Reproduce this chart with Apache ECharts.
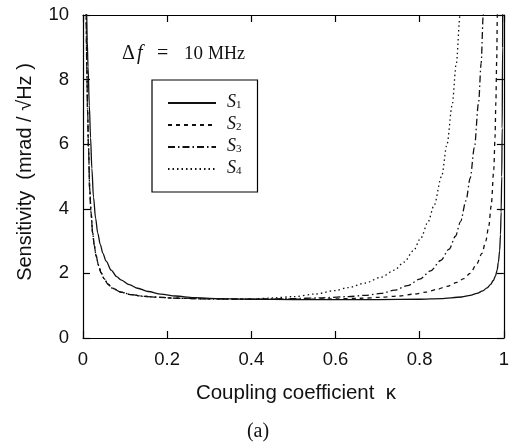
<!DOCTYPE html>
<html>
<head>
<meta charset="utf-8">
<script src="https://cdn.jsdelivr.net/npm/echarts@6/dist/echarts.min.js"></script>
<style>html,body{margin:0;padding:0;background:#fff;}#c{width:512px;height:447px;}</style>
</head>
<body>
<div id="c"></div>
<script>
// ---- data ----
var xTicks = [0, 0.2, 0.4, 0.6, 0.8, 1];
var yTicks = [0, 2, 4, 6, 8, 10];
var seriesNames = ['S1', 'S2', 'S3', 'S4'];

var s1K = [0.007, 0.0085, 0.010, 0.012, 0.015, 0.018, 0.021, 0.025, 0.030, 0.035, 0.041, 0.047, 0.055, 0.067, 0.080, 0.090, 0.110, 0.130, 0.155, 0.185, 0.220, 0.263, 0.320, 0.40, 0.50, 0.60, 0.70, 0.80, 0.85, 0.90, 0.92, 0.936, 0.950, 0.960, 0.968, 0.975, 0.980, 0.984, 0.987, 0.990, 0.992, 0.9935, 0.995, 0.996, 0.997, 0.9975];
var s1V = [12.0, 10.2, 9.2, 8.4, 7.2, 6.2, 5.25, 4.35, 3.7, 3.25, 2.9, 2.63, 2.38, 2.1, 1.9, 1.8, 1.65, 1.54, 1.44, 1.36, 1.3, 1.25, 1.22, 1.2, 1.19, 1.19, 1.19, 1.2, 1.22, 1.27, 1.32, 1.38, 1.46, 1.55, 1.65, 1.78, 1.92, 2.1, 2.35, 2.7, 3.2, 3.9, 5.0, 6.5, 9.0, 12.0];

var s2K = [0.0055, 0.0075, 0.009, 0.011, 0.013, 0.016, 0.019, 0.023, 0.027, 0.031, 0.037, 0.043, 0.050, 0.059, 0.070, 0.090, 0.115, 0.145, 0.180, 0.224, 0.30, 0.40, 0.50, 0.60, 0.66, 0.708, 0.75, 0.787, 0.815, 0.842, 0.865, 0.889, 0.905, 0.92, 0.935, 0.948, 0.957, 0.964, 0.970, 0.976, 0.979, 0.981, 0.983, 0.9845, 0.986];
var s2V = [12.0, 10.0, 8.4, 7.0, 5.9, 4.6, 3.9, 3.25, 2.85, 2.55, 2.25, 2.02, 1.84, 1.67, 1.54, 1.42, 1.34, 1.29, 1.26, 1.23, 1.21, 1.2, 1.2, 1.21, 1.23, 1.26, 1.3, 1.36, 1.42, 1.51, 1.6, 1.72, 1.84, 2.0, 2.28, 2.62, 3.0, 3.45, 4.1, 5.2, 6.2, 7.3, 8.6, 10.0, 12.0];

var s3K = [0.0055, 0.0075, 0.009, 0.011, 0.013, 0.016, 0.019, 0.023, 0.027, 0.031, 0.037, 0.043, 0.050, 0.059, 0.070, 0.090, 0.115, 0.145, 0.180, 0.224, 0.30, 0.40, 0.50, 0.56, 0.63, 0.67, 0.708, 0.74, 0.771, 0.80, 0.826, 0.85, 0.87, 0.885, 0.897, 0.91, 0.92, 0.93, 0.94, 0.946, 0.951, 0.955];
var s3V = [12.0, 10.0, 8.4, 7.0, 5.9, 4.6, 3.9, 3.25, 2.85, 2.55, 2.25, 2.02, 1.84, 1.67, 1.54, 1.42, 1.34, 1.29, 1.26, 1.23, 1.21, 1.2, 1.22, 1.24, 1.28, 1.32, 1.38, 1.48, 1.62, 1.82, 2.08, 2.4, 2.75, 3.15, 3.6, 4.25, 4.95, 5.9, 7.3, 8.5, 10.0, 11.5];

var s4K = [0.0055, 0.0075, 0.009, 0.011, 0.013, 0.016, 0.019, 0.023, 0.027, 0.031, 0.037, 0.043, 0.050, 0.059, 0.070, 0.090, 0.115, 0.145, 0.180, 0.224, 0.30, 0.40, 0.45, 0.50, 0.551, 0.60, 0.63, 0.67, 0.708, 0.74, 0.763, 0.785, 0.803, 0.82, 0.834, 0.852, 0.865, 0.877, 0.887, 0.896, 0.902];
var s4V = [12.0, 10.0, 8.4, 7.0, 5.9, 4.6, 3.9, 3.25, 2.85, 2.55, 2.25, 2.02, 1.84, 1.67, 1.54, 1.42, 1.34, 1.29, 1.26, 1.23, 1.21, 1.21, 1.24, 1.28, 1.36, 1.47, 1.56, 1.7, 1.88, 2.1, 2.35, 2.7, 3.1, 3.6, 4.1, 5.0, 6.0, 7.2, 8.5, 10.0, 11.2];

function pairs(k, v) { return k.map(function (x, i) { return [x, v[i]]; }); }

var lineTypes = ['solid', [4, 4], [7, 3, 1.5, 3], [1.5, 3]];
var allData = [pairs(s1K, s1V), pairs(s2K, s2V), pairs(s3K, s3V), pairs(s4K, s4V)];

var sans = 'Liberation Sans, Arial, Helvetica, sans-serif';
var serif = 'Liberation Serif, Times New Roman, serif';

var chart = echarts.init(document.getElementById('c'), null, { renderer: 'canvas' });

function axisCommon() {
  return {
    axisLine: { show: true, onZero: false, lineStyle: { color: '#000', width: 1.2 } },
    axisTick: { show: true, inside: true, length: 7, lineStyle: { color: '#000', width: 1.2 } },
    splitLine: { show: false }
  };
}

var option = {
  backgroundColor: '#fff',
  animation: false,
  grid: { left: 83, right: 4, top: 15, bottom: 109, containLabel: false },
  xAxis: [
    Object.assign({
      type: 'value', min: xTicks[0], max: xTicks[xTicks.length - 1], interval: 0.2, position: 'bottom',
      axisLabel: { show: true, margin: 12, color: '#111', fontSize: 18.5, fontFamily: sans,
        formatter: function (v) { return String(Math.round(v * 10) / 10); } }
    }, axisCommon()),
    Object.assign({
      type: 'value', min: 0, max: 1, interval: 0.2, position: 'top', axisLabel: { show: false }
    }, axisCommon())
  ],
  yAxis: [
    Object.assign({
      type: 'value', min: yTicks[0], max: yTicks[yTicks.length - 1], interval: 2, position: 'left',
      axisLabel: { show: true, margin: 14, color: '#111', fontSize: 18.5, fontFamily: sans }
    }, axisCommon()),
    Object.assign({
      type: 'value', min: 0, max: 10, interval: 2, position: 'right', axisLabel: { show: false }
    }, axisCommon())
  ],
  legend: {
    orient: 'vertical',
    left: 152, top: 80,
    padding: [13, 16, 15, 15],
    itemWidth: 48, itemHeight: 16, itemGap: 4,
    borderColor: '#000', borderWidth: 1.2,
    backgroundColor: '#fff',
    data: seriesNames,
    itemStyle: { opacity: 0 },
    formatter: function (name) { return '{s|S}{sub|' + name.slice(1) + '}'; },
    textStyle: {
      color: '#111',
      padding: [0, 0, 0, 6],
      rich: {
        s: { fontFamily: serif, fontStyle: 'italic', fontSize: 18, color: '#111', lineHeight: 16, verticalAlign: 'bottom' },
        sub: { fontFamily: serif, fontSize: 11, color: '#111', lineHeight: 6, verticalAlign: 'bottom' }
      }
    }
  },
  graphic: [
    { type: 'text', x: 122, y: 54, style: { text: '\u0394', fontFamily: serif, fontSize: 20, fill: '#111', verticalAlign: 'middle' } },
    { type: 'text', x: 137, y: 54, style: { text: 'f', fontFamily: serif, fontStyle: 'italic', fontSize: 20, fill: '#111', verticalAlign: 'middle' } },
    { type: 'text', x: 157, y: 54, style: { text: '=', fontFamily: serif, fontSize: 20, fill: '#111', verticalAlign: 'middle' } },
    { type: 'text', x: 184, y: 54, style: { text: '10', fontFamily: serif, fontSize: 19, fill: '#111', verticalAlign: 'middle' } },
    { type: 'text', x: 208, y: 54, style: { text: 'MHz', fontFamily: serif, fontSize: 18, fill: '#111', verticalAlign: 'middle' } },
    {
      type: 'text', x: 25, y: 172, rotation: Math.PI / 2,
      style: { text: 'Sensitivity  (mrad / \u221AHz )', fontFamily: sans, fontSize: 20, fill: '#111', align: 'center', verticalAlign: 'middle' }
    },
    {
      type: 'text', x: 296, y: 393,
      style: { text: 'Coupling coefficient  \u03BA', fontFamily: sans, fontSize: 20.5, fill: '#111', align: 'center', verticalAlign: 'middle' }
    },
    {
      type: 'text', x: 258, y: 432,
      style: { text: '(a)', fontFamily: serif, fontSize: 20, fill: '#111', align: 'center', verticalAlign: 'middle' }
    }
  ],
  series: seriesNames.map(function (n, i) {
    return {
      name: n, type: 'line', xAxisIndex: 0, yAxisIndex: 0,
      data: allData[i],
      showSymbol: false, symbol: 'none',
      smooth: 0.3, smoothMonotone: 'x',
      clip: true,
      lineStyle: { color: '#111', width: 1.3, type: lineTypes[i] },
      itemStyle: { color: '#111' },
      z: 4 - i
    };
  })
};
chart.setOption(option);
</script>
</body>
</html>
